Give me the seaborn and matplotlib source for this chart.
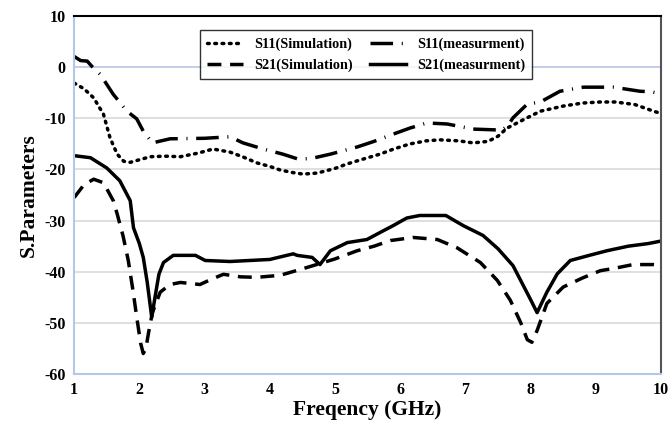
import numpy as np
import pandas as pd
import matplotlib
matplotlib.use('Agg')
import matplotlib.pyplot as plt
import seaborn as sns

# 曲线数据
s11_sim_f = [1.0, 1.15, 1.3, 1.45, 1.55, 1.66, 1.76, 1.86, 2.0, 2.17, 2.4, 2.63, 2.9, 3.13, 3.39, 3.6, 3.8, 4.0, 4.16, 4.35, 4.51, 4.73, 5.0, 5.19, 5.45, 5.69, 5.9, 6.15, 6.4, 6.61, 6.9, 7.12, 7.35, 7.5, 7.64, 7.9, 8.15, 8.5, 8.8, 9.07, 9.3, 9.6, 9.91, 10.0]
s11_sim_v = [-3.1, -4.2, -6.0, -9.2, -13.8, -17.0, -18.4, -18.6, -18.1, -17.5, -17.4, -17.5, -16.8, -16.0, -16.6, -17.6, -18.7, -19.4, -20.1, -20.6, -20.9, -20.7, -19.8, -18.9, -17.9, -17.0, -16.0, -15.0, -14.4, -14.2, -14.4, -14.8, -14.5, -13.5, -11.9, -10.2, -8.6, -7.6, -7.0, -6.8, -6.8, -7.3, -8.7, -9.0]

s11_meas_f = [1.0, 1.1, 1.2, 1.27, 1.4, 1.6, 1.81, 1.96, 2.06, 2.2, 2.47, 3.0, 3.39, 3.59, 3.9, 4.2, 4.42, 4.62, 4.93, 5.34, 5.6, 5.89, 6.15, 6.41, 6.72, 7.12, 7.56, 7.65, 7.73, 7.95, 8.15, 8.45, 8.81, 9.27, 9.68, 9.85, 10.0]
s11_meas_v = [2.1, 1.3, 1.2, 0.2, -1.4, -5.3, -8.6, -10.1, -12.5, -14.8, -14.0, -13.9, -13.6, -14.8, -16.0, -17.0, -17.9, -17.9, -17.0, -15.6, -14.5, -13.1, -11.9, -10.9, -11.1, -12.1, -12.3, -11.5, -9.9, -7.2, -6.8, -4.7, -3.9, -3.9, -4.7, -4.8, -5.2]

s21_sim_f = [1.0, 1.15, 1.3, 1.45, 1.6, 1.66, 1.75, 1.83, 1.9, 1.96, 2.02, 2.06, 2.1, 2.14, 2.2, 2.32, 2.47, 2.63, 2.93, 3.1, 3.29, 3.55, 3.8, 4.16, 4.51, 4.77, 5.0, 5.34, 5.6, 5.85, 6.2, 6.57, 6.87, 7.23, 7.49, 7.69, 7.85, 7.95, 8.02, 8.1, 8.25, 8.5, 8.8, 9.07, 9.3, 9.57, 9.88, 10.0]
s21_sim_v = [-25.5, -23.0, -21.9, -22.6, -26.1, -28.7, -33.0, -37.8, -43.5, -48.9, -54.0, -56.0, -55.0, -52.0, -48.0, -44.0, -42.5, -42.1, -42.5, -41.5, -40.5, -41.0, -41.1, -40.7, -39.4, -38.4, -37.5, -35.9, -35.0, -33.9, -33.3, -33.7, -35.3, -38.2, -41.7, -45.6, -50.0, -53.3, -53.8, -51.5, -46.2, -43.0, -41.2, -39.8, -39.3, -38.6, -38.6, -38.8]

s21_meas_f = [1.0, 1.25, 1.5, 1.7, 1.86, 1.91, 2.0, 2.06, 2.12, 2.19, 2.24, 2.3, 2.37, 2.52, 2.86, 3.01, 3.39, 4.0, 4.36, 4.42, 4.65, 4.77, 4.93, 5.19, 5.49, 5.74, 5.89, 6.1, 6.3, 6.7, 6.97, 7.27, 7.5, 7.73, 7.99, 8.1, 8.25, 8.41, 8.61, 8.9, 9.17, 9.5, 9.8, 10.0]
s21_meas_v = [-17.3, -17.7, -19.7, -22.2, -26.1, -31.4, -34.5, -37.2, -42.0, -48.9, -45.0, -40.5, -38.2, -36.8, -36.8, -37.8, -38.0, -37.6, -36.5, -36.8, -37.2, -38.6, -35.9, -34.3, -33.7, -32.0, -31.0, -29.5, -29.0, -29.0, -31.0, -32.9, -35.5, -38.8, -45.2, -48.0, -44.0, -40.4, -37.8, -36.8, -35.9, -35.0, -34.5, -34.0]

labels = ['S11(Simulation)', 'S11(measurment)', 'S21(Simulation)', 'S21(measurment)']

plt.rcParams['font.family'] = ['Liberation Serif', 'DejaVu Serif']
plt.rcParams['font.weight'] = 'bold'
plt.rcParams['axes.unicode_minus'] = False

fig = plt.figure(figsize=(6.68, 4.24), dpi=100)
ax = fig.add_axes([0.111, 0.118, 0.8785, 0.844])

grid_c = '#d9d9d9'
axis_c = '#b4c7e7'
for y in range(-50, 10, 10):
    ax.axhline(y, color=axis_c if y == 0 else grid_c, lw=1.2, zorder=0)

sns.lineplot(x=s11_sim_f, y=s11_sim_v, ax=ax, color='black', lw=2.5, label=labels[0])
sns.lineplot(x=s11_meas_f, y=s11_meas_v, ax=ax, color='black', lw=2.5, label=labels[1])
sns.lineplot(x=s21_sim_f, y=s21_sim_v, ax=ax, color='black', lw=2.5, label=labels[2])
sns.lineplot(x=s21_meas_f, y=s21_meas_v, ax=ax, color='black', lw=2.5, label=labels[3])

lines = ax.get_lines()[-4:]
lines[0].set_linestyle((0, (0.5, 1.6)))
lines[0].set_dash_capstyle('round')
lines[1].set_linestyle((0, (6.5, 2.5, 0.3, 2.5)))
lines[2].set_linestyle((0, (4, 2.5)))
lines[3].set_linestyle('-')
for ln in lines:
    ln.set_solid_joinstyle('round')
    ln.set_dash_joinstyle('round')

ax.set_xlim(1, 10)
ax.set_ylim(-60, 10)
ax.set_xticks(range(1, 11))
ax.set_yticks(range(-60, 11, 10))
ax.tick_params(length=0, labelsize=11.5, pad=6)
for lab in ax.get_xticklabels() + ax.get_yticklabels():
    lab.set_fontweight('bold')

ax.spines['left'].set_color(axis_c)
ax.spines['bottom'].set_color(axis_c)
ax.spines['top'].set_color('black')
ax.spines['right'].set_color('#555555')
for s in ax.spines.values():
    s.set_linewidth(1.5)

ax.set_xlabel('Freqency (GHz)', fontsize=15.5, fontweight='bold', labelpad=1)
ax.set_ylabel('S.Parameters', fontsize=15.5, fontweight='bold', labelpad=4)

# 图例按行排列：第一行 S11，第二行 S21
handles = [lines[0], lines[2], lines[1], lines[3]]
leg_labels = [labels[0], labels[2], labels[1], labels[3]]
leg = ax.legend(handles, leg_labels, ncol=2, loc='upper center', bbox_to_anchor=(0.548, 0.945),
                bbox_transform=fig.transFigure, frameon=True, fancybox=False,
                edgecolor='black', prop={'size': 10.3, 'weight': 'bold'},
                handlelength=2.5, columnspacing=1.2, borderpad=0.5, labelspacing=0.5)
leg.get_frame().set_linewidth(1.0)

fig.savefig('out.png', dpi=100)
